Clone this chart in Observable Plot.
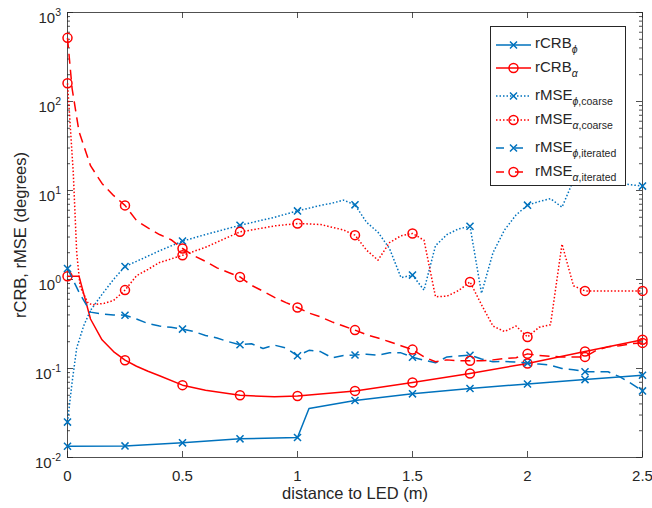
<!DOCTYPE html>
<html><head><meta charset="utf-8">
<script src="https://cdn.jsdelivr.net/npm/d3@7"></script>
<script src="https://cdn.jsdelivr.net/npm/@observablehq/plot@0.6"></script>
<style>
body{margin:0;background:#fff;}
#wrap{position:relative;width:652px;height:508px;font-family:"Liberation Sans",Arial,sans-serif;}
#legend{position:absolute;left:490px;top:26px;width:136px;height:160px;background:#fff;border:1px solid #262626;box-sizing:border-box;}
.row{position:absolute;left:0;width:100%;height:0;}
.row svg{position:absolute;left:4px;top:-10px;overflow:visible;}
.row span{position:absolute;left:44px;top:-9.5px;font-size:15px;line-height:15px;color:#262626;white-space:nowrap;}
.row sub{font-size:10.5px;vertical-align:baseline;position:relative;top:5px;}
</style></head>
<body><div id="wrap"></div>
<script>
// ---------- data ----------
const rcrbPhiX = [0,0.25,0.5,0.75,1.0,1.05,1.25,1.5,1.75,2.0,2.25,2.5];
const rcrbPhiY = [0.0134,0.0135,0.0146,0.0162,0.0168,0.0355,0.0437,0.0519,0.0596,0.067,0.075,0.084];

const rcrbAlphaX = [0,0.05,0.1,0.15,0.2,0.25,0.3,0.35,0.4,0.5,0.6,0.75,0.9,1.0,1.25,1.5,1.75,2.0,2.25,2.5];
const rcrbAlphaY = [1.09,1.09,0.36,0.21,0.155,0.124,0.106,0.093,0.083,0.065,0.057,0.050,0.048,0.049,0.056,0.0696,0.088,0.114,0.155,0.21];

const coarsePhiX = [0,0.02,0.04,0.07,0.1,0.15,0.2,0.25,0.3,0.4,0.5,0.6,0.75,0.9,1.0,1.1,1.15,1.2,1.25,1.3,1.35,1.4,1.45,1.5,1.55,1.6,1.65,1.7,1.75,1.8,1.85,1.9,1.95,2.0,2.05,2.1,2.15,2.2,2.25,2.3,2.35,2.4,2.45,2.5];
const coarsePhiY = [0.025,0.07,0.17,0.3,0.45,0.68,1.0,1.4,1.6,2.1,2.7,3.2,4.07,5.0,5.9,6.8,7.2,7.8,6.9,4.4,3.4,2.23,1.05,1.12,0.76,2.4,3.2,3.7,3.97,0.70,2.0,3.6,5.3,6.84,7.5,8.1,6.5,13,14,15,13,12,11.6,11.2];

const coarseAlphaX = [0,0.025,0.04,0.055,0.09,0.11,0.16,0.2,0.25,0.3,0.35,0.4,0.5,0.6,0.75,0.8,0.9,1.0,1.1,1.2,1.25,1.3,1.35,1.4,1.45,1.5,1.55,1.6,1.65,1.7,1.75,1.8,1.85,1.9,1.95,2.0,2.05,2.1,2.15,2.2,2.25,2.5];
const coarseAlphaY = [160,16,2.0,0.83,0.54,0.52,0.54,0.58,0.76,1.1,1.3,1.55,1.87,2.3,3.43,3.6,4.0,4.26,4.15,3.6,3.15,2.14,1.65,2.6,3.1,3.29,2.76,0.64,0.65,0.75,0.94,0.52,0.3,0.26,0.3,0.226,0.29,0.31,2.5,0.85,0.745,0.745];

const iterPhiX = [0,0.05,0.1,0.15,0.2,0.25,0.3,0.35,0.4,0.45,0.5,0.55,0.6,0.65,0.7,0.75,0.8,0.85,0.9,0.95,1.0,1.05,1.1,1.15,1.2,1.25,1.3,1.35,1.4,1.45,1.5,1.55,1.6,1.65,1.7,1.75,1.8,1.85,1.9,1.95,2.0,2.05,2.1,2.15,2.2,2.25,2.3,2.35,2.4,2.45,2.5];
const iterPhiY = [1.33,0.72,0.43,0.41,0.40,0.397,0.36,0.32,0.30,0.29,0.277,0.26,0.235,0.22,0.2,0.185,0.19,0.168,0.183,0.17,0.139,0.16,0.155,0.132,0.14,0.142,0.145,0.141,0.15,0.15,0.134,0.124,0.116,0.135,0.138,0.141,0.128,0.119,0.12,0.118,0.115,0.112,0.109,0.1,0.097,0.092,0.092,0.092,0.081,0.068,0.056];

const iterAlphaX = [0,0.02,0.05,0.1,0.15,0.2,0.25,0.3,0.35,0.4,0.45,0.5,0.55,0.6,0.65,0.7,0.75,0.8,0.85,0.9,0.95,1.0,1.05,1.1,1.15,1.2,1.25,1.3,1.35,1.4,1.45,1.5,1.55,1.6,1.65,1.7,1.75,1.8,1.85,1.9,1.95,2.0,2.05,2.1,2.15,2.2,2.25,2.3,2.35,2.4,2.45,2.5];
const iterAlphaY = [519,140,46,19,12,8.8,6.8,4.6,3.8,3.2,2.8,2.23,1.85,1.6,1.35,1.2,1.07,0.86,0.74,0.63,0.55,0.485,0.42,0.38,0.334,0.3,0.27,0.24,0.22,0.2,0.18,0.163,0.135,0.119,0.125,0.122,0.122,0.122,0.125,0.13,0.132,0.146,0.14,0.137,0.135,0.135,0.135,0.16,0.175,0.18,0.19,0.194];

const xTicks = [0,0.5,1,1.5,2,2.5];
const xTickLabels = ["0","0.5","1","1.5","2","2.5"];
const yTicks = [1e-2,1e-1,1e0,1e1,1e2,1e3];
const yTickExps = ["-2","-1","0","1","2","3"];
const xLabel = "distance to LED (m)";
const yLabel = "rCRB, rMSE (degrees)";

// ---------- build ----------
const BLUE = "#0072BD", RED = "#FF0000", AX = "#262626";
const W = 652, H = 508, mL = 67, mR = 10, mT = 12, mB = 51;
const pW = W - mL - mR, pH = H - mT - mB;

const pack = (xs, ys) => xs.map((x, i) => ({x, y: ys[i]}));
const series = [
  {name: "rCRB", sub: "ϕ", subRest: "", data: pack(rcrbPhiX, rcrbPhiY), color: BLUE, dash: null, sym: "times"},
  {name: "rCRB", sub: "α", subRest: "", data: pack(rcrbAlphaX, rcrbAlphaY), color: RED, dash: null, sym: "circle"},
  {name: "rMSE", sub: "ϕ", subRest: ",coarse", data: pack(coarsePhiX, coarsePhiY), color: BLUE, dash: "1.5,2", sym: "times"},
  {name: "rMSE", sub: "α", subRest: ",coarse", data: pack(coarseAlphaX, coarseAlphaY), color: RED, dash: "1.5,2", sym: "circle"},
  {name: "rMSE", sub: "ϕ", subRest: ",iterated", data: pack(iterPhiX, iterPhiY), color: BLUE, dash: "10,6", sym: "times"},
  {name: "rMSE", sub: "α", subRest: ",iterated", data: pack(iterAlphaX, iterAlphaY), color: RED, dash: "10,6", sym: "circle"}
];
const isMarker = d => Math.abs(d.x * 4 - Math.round(d.x * 4)) < 1e-9;

const minor = [];
for (const dec of [1e-2,1e-1,1e0,1e1,1e2]) for (let k = 2; k <= 9; k++) minor.push(dec * k);

const marks = [
  Plot.tickX(xTicks, {x: d => d, insetTop: pH - 6, stroke: AX, strokeWidth: 0.8}),
  Plot.tickX(xTicks, {x: d => d, insetBottom: pH - 6, stroke: AX, strokeWidth: 0.8}),
  Plot.tickY(yTicks, {y: d => d, insetRight: pW - 6, stroke: AX, strokeWidth: 0.8}),
  Plot.tickY(yTicks, {y: d => d, insetLeft: pW - 6, stroke: AX, strokeWidth: 0.8}),
  Plot.tickY(minor, {y: d => d, insetRight: pW - 3, stroke: AX, strokeWidth: 0.8}),
  Plot.tickY(minor, {y: d => d, insetLeft: pW - 3, stroke: AX, strokeWidth: 0.8}),
  Plot.frame({stroke: AX, strokeWidth: 0.8}),
  Plot.text(xTicks, {x: d => d, frameAnchor: "bottom", lineAnchor: "middle", dy: 19, text: (d, i) => xTickLabels[i], fontSize: 15, fill: AX}),
  Plot.text(yTicks, {y: d => d, frameAnchor: "left", lineAnchor: "middle", dx: -6.5, dy: 5.5, textAnchor: "end", text: (d, i) => "10^" + yTickExps[i], fontSize: 15, fill: AX}),
  Plot.text([xLabel], {frameAnchor: "bottom", lineAnchor: "middle", textAnchor: "middle", dy: 36, text: d => d, fontSize: 16.5, fill: AX}),
  Plot.text([yLabel], {frameAnchor: "left", lineAnchor: "middle", textAnchor: "middle", dx: -47, rotate: -90, text: d => d, fontSize: 16.5, fill: AX})
];
for (const s of series) {
  marks.push(Plot.line(s.data, {x: "x", y: "y", stroke: s.color, strokeWidth: 1.5,
    strokeDasharray: s.dash, strokeLinecap: s.dash ? "butt" : "round", strokeLinejoin: "round"}));
  marks.push(Plot.dot(s.data.filter(isMarker), {x: "x", y: "y", symbol: s.sym,
    r: s.sym === "circle" ? 4.5 : 3.3, stroke: s.color, fill: "none", strokeWidth: 1.5}));
}

const svg = Plot.plot({
  width: W, height: H, marginLeft: mL, marginRight: mR, marginTop: mT, marginBottom: mB,
  x: {domain: [0, 2.5], axis: null},
  y: {type: "log", domain: [1e-2, 1e3], axis: null},
  style: {fontFamily: "'Liberation Sans', Arial, sans-serif", fontSize: "15px", color: AX, background: "white", overflow: "visible"},
  marks
});

d3.select(svg).selectAll("text").each(function () {
  const t = d3.select(this);
  const s = t.text();
  if (!s.startsWith("10^")) return;
  const e = s.slice(3);
  t.text("10");
  t.append("tspan").attr("dy", -6.5).attr("font-size", 10.5).text(e);
});

const wrap = document.getElementById("wrap");
wrap.appendChild(svg);

// ---------- legend ----------
const rowCenters = [17.6, 41, 69.3, 93.3, 121, 145];
const legend = document.createElement("div");
legend.id = "legend";
series.forEach((s, i) => {
  const row = document.createElement("div");
  row.className = "row";
  row.style.top = rowCenters[i] + "px";
  const ns = "http://www.w3.org/2000/svg";
  const sw = document.createElementNS(ns, "svg");
  sw.setAttribute("width", 40); sw.setAttribute("height", 20);
  const ln = document.createElementNS(ns, "line");
  ln.setAttribute("x1", 1); ln.setAttribute("x2", 36); ln.setAttribute("y1", 10); ln.setAttribute("y2", 10);
  ln.setAttribute("stroke", s.color); ln.setAttribute("stroke-width", 1.5);
  if (s.dash) ln.setAttribute("stroke-dasharray", s.dash === "10,6" ? "8,11" : s.dash);
  sw.appendChild(ln);
  if (s.sym === "circle") {
    const c = document.createElementNS(ns, "circle");
    c.setAttribute("cx", 18.5); c.setAttribute("cy", 10); c.setAttribute("r", 4.5);
    c.setAttribute("fill", "none"); c.setAttribute("stroke", s.color); c.setAttribute("stroke-width", 1.5);
    sw.appendChild(c);
  } else {
    const p = document.createElementNS(ns, "path");
    p.setAttribute("d", "M15,6.5L22,13.5M15,13.5L22,6.5");
    p.setAttribute("stroke", s.color); p.setAttribute("stroke-width", 1.5);
    sw.appendChild(p);
  }
  row.appendChild(sw);
  const sp = document.createElement("span");
  sp.innerHTML = s.name + "<sub><i>" + s.sub + "</i>" + s.subRest + "</sub>";
  row.appendChild(sp);
  legend.appendChild(row);
});
wrap.appendChild(legend);
</script></body></html>
